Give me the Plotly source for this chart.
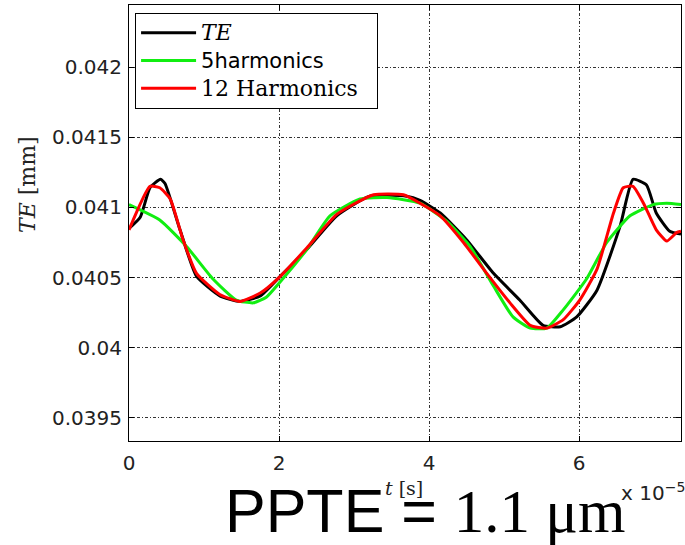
import plotly.graph_objects as go

# time in units of 1e-5 s
t_te = [0, 0.15, 0.28, 0.42, 0.48, 0.68, 0.90, 1.21, 1.48, 1.75, 2.0, 2.37, 2.77, 3.21, 3.70,
        3.88, 4.15, 4.50, 4.86, 5.21, 5.52, 5.75, 5.97, 6.24, 6.55, 6.72, 6.90, 7.03, 7.21, 7.36]
te = [0.04085, 0.04093, 0.04114, 0.04120, 0.04117, 0.04084, 0.04051, 0.04037, 0.04033, 0.04037,
      0.04050, 0.04070, 0.04094, 0.04108, 0.04108, 0.04105, 0.04096, 0.04077, 0.04053, 0.04034,
      0.04016, 0.04015, 0.04022, 0.04041, 0.04087, 0.04120, 0.04116, 0.04096, 0.04083, 0.04081]

t_h12 = [0, 0.28, 0.41, 0.55, 0.72, 0.90, 1.21, 1.48, 1.75, 2.0, 2.37, 2.77, 3.26, 3.66, 3.88,
         4.15, 4.46, 4.77, 5.08, 5.35, 5.57, 5.79, 6.01, 6.24, 6.46, 6.59, 6.72, 6.86, 7.03, 7.17,
         7.30, 7.36]
h12 = [0.04084, 0.04115, 0.04114, 0.04106, 0.04077, 0.04053, 0.04038, 0.04033, 0.04039, 0.04050,
       0.04071, 0.04095, 0.04109, 0.04109, 0.04103, 0.04094, 0.04075, 0.04053, 0.04032, 0.04016,
       0.04014, 0.04020, 0.04034, 0.04056, 0.04096, 0.04114, 0.04115, 0.04103, 0.04084, 0.04076,
       0.04082, 0.04083]

t_h5 = [0, 0.41, 0.77, 1.12, 1.43, 1.66, 1.83, 2.0, 2.37, 2.68, 3.08, 3.44, 3.88, 4.24, 4.55,
        4.86, 5.12, 5.35, 5.57, 5.79, 6.10, 6.37, 6.68, 6.99, 7.17, 7.36]
h5 = [0.04102, 0.04091, 0.04072, 0.04049, 0.04034, 0.04032, 0.04036, 0.04046, 0.04070, 0.04094,
      0.04106, 0.04107, 0.04103, 0.04090, 0.04072, 0.04044, 0.04022, 0.04014, 0.04014, 0.04027,
      0.04049, 0.04075, 0.04094, 0.04102, 0.04103, 0.04102]

x_ticks = [0, 2, 4, 6]
y_ticks = [0.0395, 0.04, 0.0405, 0.041, 0.0415, 0.042]
y_ticktext = ["0.0395", "0.04", "0.0405", "0.041", "0.0415", "0.042"]

SERIF = "DejaVu Serif"
SANS = "DejaVu Sans"
NB = "\u00a0"

fig = go.Figure()
fig.add_trace(go.Scatter(x=t_te, y=te, mode="lines",
                         name='<span style="font-size:22px"><i>TE</i></span>',
                         line=dict(color="#000000", width=3, shape="spline", smoothing=0.5)))
fig.add_trace(go.Scatter(x=t_h5, y=h5, mode="lines",
                         name='<span style="font-family:DejaVu Sans;font-size:21px">5harmonics</span>',
                         line=dict(color="#11ee11", width=3, shape="spline", smoothing=0.5)))
fig.add_trace(go.Scatter(x=t_h12, y=h12, mode="lines",
                         name='<span style="font-size:22px">12 Harmonics' + NB * 2 + '</span>',
                         line=dict(color="#ff0000", width=3, shape="spline", smoothing=0.5)))

axis_common = dict(
    showline=True, linecolor="black", linewidth=1, mirror="ticks",
    ticks="inside", ticklen=5, tickcolor="black", tickwidth=1,
    showgrid=True, gridcolor="#333333", gridwidth=1, griddash="3px,2px,1px,2px",
    zeroline=False, tickfont=dict(family=SANS, size=20, color="#222222"),
)

fig.update_layout(
    width=685, height=545,
    margin=dict(l=129, r=4, t=5, b=104),
    paper_bgcolor="white", plot_bgcolor="white",
    xaxis=dict(range=[0, 7.36], tickvals=x_ticks, ticktext=[str(v) for v in x_ticks],
               ticklabelstandoff=4, **axis_common),
    yaxis=dict(range=[0.039336, 0.0424416], tickvals=y_ticks, ticktext=y_ticktext,
               ticklabelstandoff=2, **axis_common),
    showlegend=True,
    legend=dict(x=0.011, y=0.9817, xanchor="left", yanchor="top",
                bgcolor="white", bordercolor="black", borderwidth=1,
                font=dict(family=SERIF, size=19, color="black"),
                itemwidth=55, tracegroupgap=0),
    annotations=[
        dict(text="<i>TE</i> [mm]", xref="paper", yref="paper", x=-0.1848, y=0.5894,
             textangle=-90, showarrow=False, xanchor="center", yanchor="middle",
             font=dict(family=SERIF, size=22, color="#222222")),
        dict(text="<i>t</i> [s]", xref="paper", yref="paper", x=0.498, y=-0.1078,
             showarrow=False, xanchor="center", yanchor="middle",
             font=dict(family=SERIF, size=19, color="#222222")),
        dict(text="x 10<sup>−5</sup>", xref="paper", yref="paper", x=1.01, y=-0.118,
             showarrow=False, xanchor="right", yanchor="middle",
             font=dict(family=SANS, size=20, color="#222222")),
        dict(text='PPTE = <span style="font-family:Liberation Serif">1.1 μm</span>',
             xref="paper", yref="paper", x=0.1703, y=-0.1606,
             showarrow=False, xanchor="left", yanchor="middle",
             font=dict(family="Liberation Sans", size=61, color="black")),
    ],
)

fig.write_html("out.html")
